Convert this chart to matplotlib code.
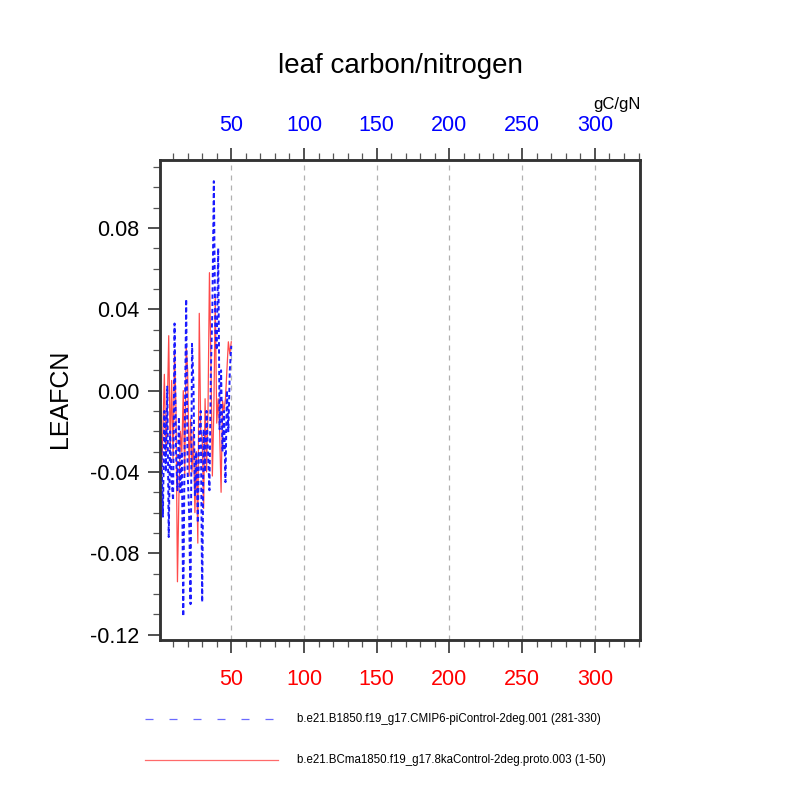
import matplotlib
matplotlib.use("Agg")
import matplotlib.pyplot as plt
from matplotlib.ticker import FixedLocator, MultipleLocator
from matplotlib.lines import Line2D

plt.rcParams['font.family'] = ['Liberation Sans', 'DejaVu Sans']

title = "leaf carbon/nitrogen"
ylabel = "LEAFCN"
units = "gC/gN"
label_blue = "b.e21.B1850.f19_g17.CMIP6-piControl-2deg.001 (281-330)"
label_red = "b.e21.BCma1850.f19_g17.8kaControl-2deg.proto.003 (1-50)"

years = list(range(1, 51))
blue_vals = [0.007, -0.030, -0.062, -0.010, -0.040, 0.002, -0.072, -0.020, -0.045, -0.054,
             0.033, -0.030, -0.049, -0.013, -0.050, -0.030, -0.111, -0.020, 0.045, -0.040,
             -0.060, -0.105, 0.023, 0.004, -0.052, -0.030, -0.065, -0.020, -0.010, -0.104,
             -0.019, -0.040, -0.010, -0.030, -0.049, 0.010, 0.040, 0.103, 0.030, 0.020,
             0.070, -0.019, 0.010, -0.030, -0.010, -0.045, 0.000, -0.020, 0.010, 0.022]
red_vals = [-0.005, -0.042, -0.020, 0.008, -0.030, -0.010, 0.027, -0.029, 0.005, -0.035,
            0.020, -0.010, -0.094, -0.052, -0.020, -0.030, 0.000, -0.042, 0.022, 0.010,
            -0.042, -0.014, -0.040, -0.020, -0.060, -0.030, -0.075, 0.038, -0.020, -0.023,
            -0.058, -0.004, -0.040, -0.010, 0.058, 0.015, -0.042, -0.010, 0.046, -0.016,
            -0.004, -0.020, -0.050, -0.005, -0.010, -0.004, 0.010, 0.024, 0.018, 0.024]

xticks = [50, 100, 150, 200, 250, 300]
xtick_labels = ["50", "100", "150", "200", "250", "300"]
yticks = [-0.12, -0.08, -0.04, 0.00, 0.04, 0.08]
ytick_labels = ["-0.12", "-0.08", "-0.04", "0.00", "0.04", "0.08"]

fig = plt.figure(figsize=(8, 8), dpi=100)
ax = fig.add_axes([0.2, 0.2006, 0.6, 0.5994])

for xv in xticks:
    ax.axvline(xv, color='#b0b0b0', lw=0.9, ls=(0, (4, 4)), zorder=0)

ax.plot(years, red_vals, color='#ff4a4a', lw=0.9, zorder=2)
ax.plot(years, blue_vals, color='#1a1aff', lw=1.4, ls=(0, (2.2, 1.5)), zorder=3)

ax.set_xlim(1, 331)
ax.set_ylim(-0.1224, 0.1134)

ax.xaxis.set_major_locator(FixedLocator(xticks))
ax.xaxis.set_minor_locator(MultipleLocator(10))
ax.set_xticklabels(xtick_labels)
ax.yaxis.set_major_locator(FixedLocator(yticks))
ax.yaxis.set_minor_locator(MultipleLocator(0.01))
ax.set_yticklabels(ytick_labels)

ax.tick_params(axis='x', which='both', top=False, bottom=True, direction='out')
ax.tick_params(axis='y', which='both', left=True, right=False, direction='out')
ax.tick_params(which='major', length=9, width=1.1, color='#222222', labelsize=15.5)
ax.tick_params(axis='y', which='major', pad=6)
ax.tick_params(axis='x', which='major', labelcolor='red', pad=12)
ax.tick_params(which='minor', length=5, width=0.9, color='#555555')

top = ax.twiny()
top.set_xlim(ax.get_xlim())
top.xaxis.set_major_locator(FixedLocator(xticks))
top.xaxis.set_minor_locator(MultipleLocator(10))
top.set_xticklabels(xtick_labels)
top.tick_params(axis='x', which='major', direction='out', length=9, width=1.1,
                color='#222222', labelsize=15.5, labelcolor='blue', pad=8.5)
top.tick_params(axis='x', which='minor', direction='out', length=5, width=0.9, color='#555555')

for a in (ax, top):
    for sp in a.spines.values():
        sp.set_linewidth(1.8)
        sp.set_color('#333333')

fig.text(0.5, 0.918, title, ha='center', va='center', fontsize=20)
fig.text(0.075, 0.502, ylabel, ha='center', va='center', rotation=90, fontsize=18)
fig.text(0.771, 0.87, units, ha='center', va='center', fontsize=12)

fig.add_artist(Line2D([0.181, 0.344], [0.101, 0.101], color='#6a6aff', lw=0.9,
                      ls=(0, (6.4, 12.8))))
fig.text(0.371, 0.101, label_blue, ha='left', va='center', fontsize=8.3)
fig.add_artist(Line2D([0.181, 0.347], [0.05, 0.05], color='#ff6a6a', lw=0.9))
fig.text(0.371, 0.05, label_red, ha='left', va='center', fontsize=8.3)

fig.savefig("out.png", dpi=100)
